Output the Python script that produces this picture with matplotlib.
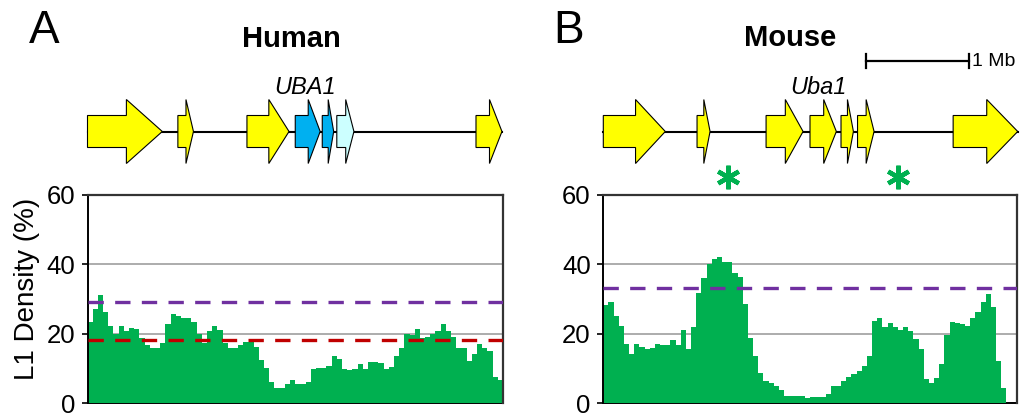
import numpy as np
import matplotlib
matplotlib.use("Agg")
import matplotlib.pyplot as plt
from matplotlib.patches import Polygon

plt.rcParams['font.family'] = ['Liberation Sans', 'DejaVu Sans']

# ---------------- data ----------------
bin_width_mb = 0.05
human_density = [23.5, 27.1, 31.2, 26.4, 22.3, 20.1, 22.3, 20.8, 21.6, 21.4,
                 18.7, 16.8, 16.0, 16.0, 17.3, 22.7, 25.6, 25.1, 24.5, 24.6,
                 23.3, 19.9, 17.3, 20.8, 22.3, 21.2, 17.3, 16.0, 16.0, 16.8,
                 17.6, 17.6, 16.3, 12.5, 10.1, 6.0, 4.3, 4.3, 5.5, 6.7,
                 5.5, 5.5, 6.0, 9.8, 10.1, 10.1, 10.8, 13.7, 12.7, 9.8,
                 9.5, 9.8, 11.2, 9.8, 12.0, 12.0, 11.7, 9.8, 10.5, 13.7,
                 15.8, 19.9, 19.8, 21.3, 18.7, 19.2, 19.9, 20.8, 22.7, 20.8,
                 19.2, 16.0, 16.0, 12.2, 14.2, 17.1, 16.0, 15.1, 7.7, 6.7]
mouse_density = [28.3, 29.1, 25.2, 22.2, 17.1, 14.2, 17.1, 16.1, 15.5, 15.8,
                 17.1, 16.8, 16.8, 18.2, 16.8, 21.1, 15.6, 21.9, 31.8, 36.0,
                 40.0, 41.7, 42.0, 40.7, 40.7, 37.4, 36.4, 28.6, 18.7, 13.6,
                 8.6, 6.4, 5.9, 5.0, 3.8, 2.1, 2.1, 2.1, 2.0, 1.5,
                 1.7, 1.7, 1.7, 2.7, 5.0, 5.0, 6.4, 7.5, 8.3, 9.4,
                 10.8, 13.7, 23.8, 24.5, 22.0, 23.0, 22.0, 21.1, 21.9, 20.8,
                 18.4, 15.6, 6.9, 5.8, 7.2, 11.2, 19.7, 23.5, 23.2, 22.9,
                 22.3, 24.5, 26.4, 29.2, 31.6, 27.6, 12.3, 4.3, 0.0, 0.0]

human_purple_line = 29.2
human_red_line = 18.2
mouse_purple_line = 33.3

y_ticks = [0, 20, 40, 60]

human_gene_start = [0.0, 0.87, 1.535, 2.00, 2.26, 2.40, 3.74]
human_gene_end = [0.72, 1.02, 1.94, 2.24, 2.37, 2.565, 3.99]
human_gene_kind = ['other', 'other', 'other', 'uba', 'uba', 'ubalight', 'other']
human_label = 'UBA1'
human_label_pos = 2.09

mouse_gene_start = [0.0, 0.907, 1.575, 2.00, 2.30, 2.46, 3.385]
mouse_gene_end = [0.60, 1.033, 1.933, 2.255, 2.42, 2.62, 4.01]
mouse_gene_kind = ['other'] * 7
mouse_label = 'Uba1'
mouse_label_pos = 2.08
mouse_star_pos = [1.205, 2.85]
scale_bar_start = 2.54
scale_bar_len = 1.0

region_len = 4.0

# ---------------- style ----------------
GREEN = '#00B050'
PURPLE = '#7030A0'
RED = '#C00000'
KIND_COLOR = {'other': '#FFFF00', 'uba': '#00B0F0', 'ubalight': '#CCFFFF'}

W, H = 1021, 416
fig = plt.figure(figsize=(W / 100, H / 100), dpi=100)


def px_axes(x0, y0, x1, y1):
    return fig.add_axes([x0 / W, 1 - y1 / H, (x1 - x0) / W, (y1 - y0) / H])


def hist_panel(x0, x1, values, hlines):
    ax = px_axes(x0, 195, x1, 403.3)
    xs = np.arange(len(values)) * bin_width_mb
    ax.bar(xs, values, width=bin_width_mb, align='edge', color=GREEN,
           linewidth=0, zorder=2)
    for val, col in hlines:
        ax.axhline(val, color=col, lw=2.4, dashes=(4.6, 3.4), zorder=3)
    ax.set_xlim(0, region_len)
    ax.set_ylim(0, 60)
    ax.set_yticks(y_ticks)
    ax.set_xticks([])
    ax.yaxis.grid(True, color='#A6A6A6', lw=1.3)
    ax.set_axisbelow(True)
    ax.tick_params(axis='y', labelsize=18.5, length=4, width=1.2, pad=5,
                   direction='out')
    ax.spines['left'].set_linewidth(1.4)
    ax.spines['left'].set_color('black')
    for s in ('top', 'right'):
        ax.spines[s].set_color('#333333')
        ax.spines[s].set_linewidth(1.6)
    ax.spines['bottom'].set_color('black')
    ax.spines['bottom'].set_linewidth(1.4)
    ax.spines['bottom'].set_zorder(1)
    return ax


def gene_panel(x0, x1, starts, ends, kinds, backbone_end):
    ax = px_axes(x0, 0, x1, 195)
    ax.set_xlim(0, region_len)
    ax.set_ylim(195, 0)
    ax.axis('off')
    yc = 131.5
    ax.plot([0, backbone_end], [yc, yc], color='black', lw=1.5, zorder=1,
            clip_on=False)
    for s, e, k in zip(starts, ends, kinds):
        h = 0.48 * (e - s)
        pts = [(s, yc - 16), (e - h, yc - 16), (e - h, yc - 32), (e, yc),
               (e - h, yc + 32), (e - h, yc + 16), (s, yc + 16)]
        ax.add_patch(Polygon(pts, closed=True, facecolor=KIND_COLOR[k],
                             edgecolor='black', lw=0.8, zorder=2,
                             clip_on=False))
    return ax


# Histograms
hist_panel(87.5, 503, human_density,
           [(human_purple_line, PURPLE), (human_red_line, RED)])
hist_panel(603.3, 1016.7, mouse_density, [(mouse_purple_line, PURPLE)])

# Gene diagrams
gh = gene_panel(87.5, 503, human_gene_start, human_gene_end,
                human_gene_kind, 3.99)
gh.text(human_label_pos, 88, human_label, style='italic', fontsize=17,
        ha='center', va='center')

gm = gene_panel(603.3, 1016.7, mouse_gene_start, mouse_gene_end,
                mouse_gene_kind, 4.01)
gm.text(mouse_label_pos, 88, mouse_label, style='italic', fontsize=17,
        ha='center', va='center')
gm.plot(mouse_star_pos, [177] * len(mouse_star_pos), linestyle='none',
        marker=(6, 2, 0), markersize=17, mew=3.2, color=GREEN,
        clip_on=False)
# scale bar
sb0, sb1 = scale_bar_start, scale_bar_start + scale_bar_len
gm.plot([sb0, sb1], [60.7, 60.7], color='black', lw=1.6, clip_on=False)
gm.plot([sb0, sb0], [54, 68], color='black', lw=1.6, clip_on=False)
gm.plot([sb1, sb1], [54, 68], color='black', lw=1.6, clip_on=False)
gm.text(sb1 + 0.03, 61, '1 Mb', fontsize=14, ha='left', va='center')

# Titles and panel letters
fig.text(291 / W, 1 - 39 / H, 'Human', fontsize=21, fontweight='bold',
         ha='center', va='center')
fig.text(790 / W, 1 - 38 / H, 'Mouse', fontsize=21, fontweight='bold',
         ha='center', va='center')
fig.text(44 / W, 1 - 31 / H, 'A', fontsize=33, ha='center', va='center')
fig.text(569 / W, 1 - 31 / H, 'B', fontsize=33, ha='center', va='center')

# Y label
fig.text(27.5 / W, 1 - 289 / H, 'L1 Density (%)', fontsize=20,
         rotation=90, ha='center', va='center')

fig.savefig('out.png', dpi=100)
